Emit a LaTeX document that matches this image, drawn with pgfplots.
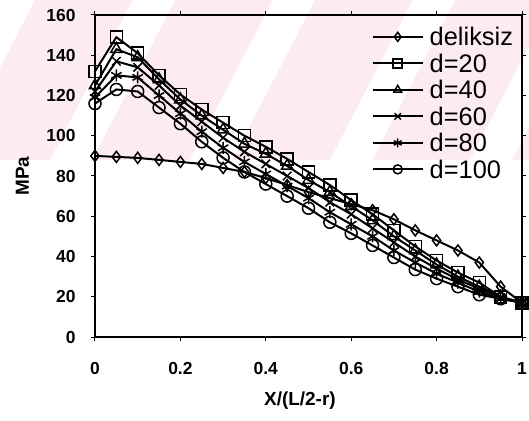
\documentclass[border=0pt]{standalone}
\usepackage{pgfplots}
\pgfplotsset{compat=1.18}
\usepackage{fontspec}
\setmainfont{Liberation Sans}
\definecolor{wm}{RGB}{253,236,239}
\begin{document}
\begin{tikzpicture}
% scan watermark band behind the chart
\begin{scope}
\clip (-95bp,177bp) rectangle (434bp,337bp);
\fill[wm] (-95bp,177bp) rectangle (434bp,337bp);
\foreach \b in {-325,-185,-45,95,235,375}{
  \fill[white] (\b bp,177bp) -- ++(42bp,0bp) -- ++(83bp,160bp) -- ++(-42bp,0bp) -- cycle;
}
\end{scope}
\begin{axis}[
  at={(0,0)}, anchor=south west,
  scale only axis, width=427bp, height=322bp,
  xmin=0, xmax=1, ymin=0, ymax=160,
  xtick={0,0.2,...,1.0}, ytick={0,20,...,160},
  xticklabels={0,0.2,0.4,0.6,0.8,1},
  tick align=outside, major tick length=4bp,
  tick style={black, line width=1bp},
  axis line style={line width=1.4bp},
  /pgf/number format/assume math mode=true,
  tick label style={font=\bfseries\fontsize{17.5}{17.5}\selectfont},
  yticklabel style={xshift=-12bp},
  xticklabel style={yshift=-18bp},
  xlabel={X/(L/2-r)}, ylabel={MPa},
  label style={font=\bfseries\fontsize{19}{19}\selectfont},
  xlabel style={at={(axis description cs:0.48,-0.199)}, anchor=center},
  ylabel style={at={(axis description cs:-0.17,0.5)}, anchor=center},
  every axis plot/.append style={black, line width=2bp, mark options={solid, fill=white, line width=1.5bp}},
  legend style={at={(0.979,0.96)}, anchor=north east, draw=none, fill=none,
    inner sep=0pt, outer sep=0pt,
    font=\fontsize{25.5}{25.5}\selectfont, row sep=8.5bp, column sep=6bp,
    nodes={inner sep=0pt, text height=18bp, text depth=0bp}},
  legend cell align=left,
  legend image code/.code={\draw[mark repeat=2,mark phase=2, mark size=4.5bp] plot coordinates {(0bp,0bp) (25bp,0bp) (50bp,0bp)};},
  clip=false,
]
\addplot[mark=diamond, mark size=5.5bp] coordinates {
(0,90) (0.05,89.5) (0.1,89) (0.15,88) (0.2,87) (0.25,86) (0.3,84) (0.35,82) (0.4,79) (0.45,75.5)
(0.5,72) (0.55,69) (0.6,66) (0.65,63) (0.7,58.5) (0.75,53) (0.8,48) (0.85,43) (0.9,37) (0.95,25) (1,17)};
\addlegendentry{deliksiz}
\addplot[mark=square, mark size=6bp] coordinates {
(0,132) (0.05,149) (0.1,141) (0.15,130) (0.2,120.5) (0.25,113) (0.3,106.5) (0.35,100) (0.4,94.5) (0.45,88.5)
(0.5,82) (0.55,75.5) (0.6,68) (0.65,61) (0.7,53) (0.75,45) (0.8,38) (0.85,32) (0.9,27) (0.95,20) (1,17)};
\addlegendentry{d=20}
\addplot[mark=triangle, mark size=6.5bp] coordinates {
(0,125) (0.05,143) (0.1,139) (0.15,128) (0.2,118) (0.25,110) (0.3,103) (0.35,96) (0.4,91) (0.45,85)
(0.5,78) (0.55,72) (0.6,65) (0.65,58) (0.7,50) (0.75,43) (0.8,36) (0.85,30) (0.9,25) (0.95,20) (1,17)};
\addlegendentry{d=40}
\addplot[mark=x, mark size=6bp] coordinates {
(0,122) (0.05,137) (0.1,134) (0.15,125) (0.2,115) (0.25,107) (0.3,99) (0.35,92) (0.4,86) (0.45,80)
(0.5,74) (0.55,67) (0.6,61) (0.65,54) (0.7,47) (0.75,40) (0.8,34) (0.85,28.5) (0.9,24) (0.95,19.5) (1,17)};
\addlegendentry{d=60}
\addplot[mark=asterisk, mark size=6bp] coordinates {
(0,119) (0.05,130) (0.1,129) (0.15,120) (0.2,111) (0.25,102) (0.3,94) (0.35,87) (0.4,81) (0.45,75)
(0.5,69) (0.55,62) (0.6,56) (0.65,50) (0.7,43) (0.75,37) (0.8,31.5) (0.85,27) (0.9,22.5) (0.95,19) (1,17)};
\addlegendentry{d=80}
\addplot[mark=o, mark size=6bp] coordinates {
(0,116) (0.05,123) (0.1,122) (0.15,114) (0.2,106) (0.25,97) (0.3,89) (0.35,82) (0.4,76) (0.45,70)
(0.5,64) (0.55,57) (0.6,51.5) (0.65,45.5) (0.7,39.5) (0.75,33.5) (0.8,29) (0.85,25) (0.9,21) (0.95,19) (1,17)};
\addlegendentry{d=100}
\end{axis}
\pgfresetboundingbox
\path[use as bounding box] (-95bp,-84bp) rectangle (434bp,337bp);
\end{tikzpicture}
\end{document}
